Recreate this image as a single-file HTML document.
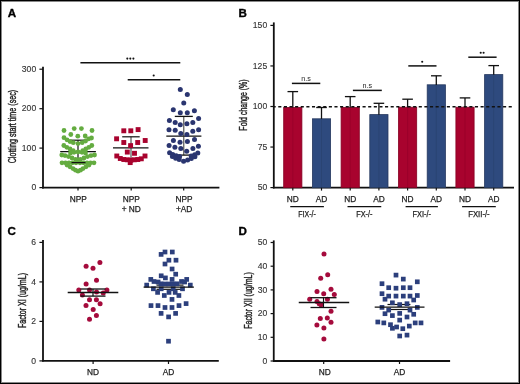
<!DOCTYPE html>
<html><head><meta charset="utf-8"><style>
html,body{margin:0;padding:0;background:#fff;overflow:hidden;}
svg{display:block;font-family:"Liberation Sans", sans-serif;will-change:transform;}
</style></head><body>
<svg width="520" height="384" viewBox="0 0 520 384">
<rect x="0" y="0" width="520" height="384" fill="#fff"/>
<text x="7.70" y="17.05" font-size="11.6" text-anchor="start" font-weight="bold" fill="#000"  stroke="#000" stroke-width="0.35">A</text>
<line x1="43.00" y1="66.80" x2="43.00" y2="188.40" stroke="#111" stroke-width="1.8"/>
<line x1="39.40" y1="69.20" x2="43.00" y2="69.20" stroke="#111" stroke-width="1.2"/>
<text x="36.20" y="71.90" font-size="8.6" text-anchor="end" font-weight="normal" fill="#333" stroke="#333" stroke-width="0.12" >300</text>
<line x1="39.40" y1="108.70" x2="43.00" y2="108.70" stroke="#111" stroke-width="1.2"/>
<text x="36.20" y="111.40" font-size="8.6" text-anchor="end" font-weight="normal" fill="#333" stroke="#333" stroke-width="0.12" >200</text>
<line x1="39.40" y1="148.10" x2="43.00" y2="148.10" stroke="#111" stroke-width="1.2"/>
<text x="36.20" y="150.80" font-size="8.6" text-anchor="end" font-weight="normal" fill="#333" stroke="#333" stroke-width="0.12" >100</text>
<line x1="39.40" y1="187.60" x2="43.00" y2="187.60" stroke="#111" stroke-width="1.2"/>
<text x="36.20" y="190.30" font-size="8.6" text-anchor="end" font-weight="normal" fill="#333" stroke="#333" stroke-width="0.12" >0</text>
<line x1="42.10" y1="187.60" x2="219.40" y2="187.60" stroke="#111" stroke-width="1.8"/>
<line x1="78.00" y1="187.70" x2="78.00" y2="190.60" stroke="#111" stroke-width="1.2"/>
<line x1="131.20" y1="187.70" x2="131.20" y2="190.60" stroke="#111" stroke-width="1.2"/>
<line x1="183.70" y1="187.70" x2="183.70" y2="190.60" stroke="#111" stroke-width="1.2"/>
<text transform="translate(15.90,126.60) rotate(-90)" x="0" y="0" font-size="10" text-anchor="middle" fill="#1e1e1e" stroke="#1e1e1e" stroke-width="0.4" textLength="73.5" lengthAdjust="spacingAndGlyphs">Clotting start time (sec)</text>
<text x="78.30" y="201.70" font-size="8.3" text-anchor="middle" font-weight="normal" fill="#1e1e1e" stroke="#1e1e1e" stroke-width="0.25" >NPP</text>
<text x="131.20" y="201.70" font-size="8.3" text-anchor="middle" font-weight="normal" fill="#1e1e1e" stroke="#1e1e1e" stroke-width="0.25" >NPP</text>
<text x="131.20" y="211.50" font-size="8.3" text-anchor="middle" font-weight="normal" fill="#1e1e1e" stroke="#1e1e1e" stroke-width="0.25" >+ ND</text>
<text x="184.00" y="201.70" font-size="8.3" text-anchor="middle" font-weight="normal" fill="#1e1e1e" stroke="#1e1e1e" stroke-width="0.25" >NPP</text>
<text x="184.10" y="211.50" font-size="8.3" text-anchor="middle" font-weight="normal" fill="#1e1e1e" stroke="#1e1e1e" stroke-width="0.25" >+AD</text>
<line x1="80.40" y1="62.80" x2="180.30" y2="62.80" stroke="#111" stroke-width="1.5"/>
<circle cx="127.30" cy="58.60" r="1.05" fill="#111"/>
<circle cx="130.30" cy="58.60" r="1.05" fill="#111"/>
<circle cx="133.40" cy="58.60" r="1.05" fill="#111"/>
<line x1="127.70" y1="79.80" x2="180.30" y2="79.80" stroke="#111" stroke-width="1.5"/>
<circle cx="153.70" cy="75.50" r="1.05" fill="#111"/>
<line x1="60.20" y1="151.70" x2="95.90" y2="151.70" stroke="#111" stroke-width="1.3"/>
<line x1="78.00" y1="140.20" x2="78.00" y2="162.50" stroke="#111" stroke-width="1.2"/>
<line x1="70.50" y1="140.20" x2="85.50" y2="140.20" stroke="#111" stroke-width="1.2"/>
<circle cx="64.00" cy="130.50" r="2.4" fill="#64ac40"/>
<circle cx="74.20" cy="128.60" r="2.4" fill="#64ac40"/>
<circle cx="81.40" cy="128.60" r="2.4" fill="#64ac40"/>
<circle cx="92.00" cy="130.50" r="2.4" fill="#64ac40"/>
<circle cx="70.80" cy="134.50" r="2.4" fill="#64ac40"/>
<circle cx="77.80" cy="136.20" r="2.4" fill="#64ac40"/>
<circle cx="85.20" cy="136.00" r="2.4" fill="#64ac40"/>
<circle cx="64.00" cy="137.70" r="2.4" fill="#64ac40"/>
<circle cx="67.00" cy="139.80" r="2.4" fill="#64ac40"/>
<circle cx="70.00" cy="141.50" r="2.4" fill="#64ac40"/>
<circle cx="73.30" cy="142.70" r="2.4" fill="#64ac40"/>
<circle cx="78.00" cy="143.60" r="2.4" fill="#64ac40"/>
<circle cx="82.20" cy="142.70" r="2.4" fill="#64ac40"/>
<circle cx="85.60" cy="141.00" r="2.4" fill="#64ac40"/>
<circle cx="88.60" cy="138.90" r="2.4" fill="#64ac40"/>
<circle cx="91.50" cy="138.00" r="2.4" fill="#64ac40"/>
<circle cx="63.80" cy="145.50" r="2.4" fill="#64ac40"/>
<circle cx="66.80" cy="147.30" r="2.4" fill="#64ac40"/>
<circle cx="70.00" cy="149.00" r="2.4" fill="#64ac40"/>
<circle cx="73.20" cy="150.60" r="2.4" fill="#64ac40"/>
<circle cx="91.80" cy="145.50" r="2.4" fill="#64ac40"/>
<circle cx="88.80" cy="147.30" r="2.4" fill="#64ac40"/>
<circle cx="85.80" cy="149.00" r="2.4" fill="#64ac40"/>
<circle cx="82.80" cy="150.60" r="2.4" fill="#64ac40"/>
<circle cx="70.50" cy="153.00" r="2.4" fill="#64ac40"/>
<circle cx="74.00" cy="152.30" r="2.4" fill="#64ac40"/>
<circle cx="78.00" cy="152.00" r="2.4" fill="#64ac40"/>
<circle cx="82.00" cy="152.30" r="2.4" fill="#64ac40"/>
<circle cx="85.50" cy="153.00" r="2.4" fill="#64ac40"/>
<circle cx="61.80" cy="155.00" r="2.4" fill="#64ac40"/>
<circle cx="65.00" cy="155.60" r="2.4" fill="#64ac40"/>
<circle cx="68.50" cy="156.60" r="2.4" fill="#64ac40"/>
<circle cx="72.00" cy="158.00" r="2.4" fill="#64ac40"/>
<circle cx="75.50" cy="159.30" r="2.4" fill="#64ac40"/>
<circle cx="78.00" cy="159.80" r="2.4" fill="#64ac40"/>
<circle cx="80.50" cy="159.30" r="2.4" fill="#64ac40"/>
<circle cx="84.00" cy="158.00" r="2.4" fill="#64ac40"/>
<circle cx="87.50" cy="156.60" r="2.4" fill="#64ac40"/>
<circle cx="91.00" cy="155.60" r="2.4" fill="#64ac40"/>
<circle cx="94.50" cy="155.00" r="2.4" fill="#64ac40"/>
<circle cx="62.00" cy="162.80" r="2.4" fill="#64ac40"/>
<circle cx="65.50" cy="162.80" r="2.4" fill="#64ac40"/>
<circle cx="69.00" cy="162.80" r="2.4" fill="#64ac40"/>
<circle cx="72.50" cy="162.80" r="2.4" fill="#64ac40"/>
<circle cx="76.00" cy="162.80" r="2.4" fill="#64ac40"/>
<circle cx="80.00" cy="162.80" r="2.4" fill="#64ac40"/>
<circle cx="83.50" cy="162.80" r="2.4" fill="#64ac40"/>
<circle cx="87.00" cy="162.80" r="2.4" fill="#64ac40"/>
<circle cx="90.50" cy="162.80" r="2.4" fill="#64ac40"/>
<circle cx="94.00" cy="162.80" r="2.4" fill="#64ac40"/>
<circle cx="67.00" cy="165.00" r="2.4" fill="#64ac40"/>
<circle cx="70.00" cy="166.80" r="2.4" fill="#64ac40"/>
<circle cx="73.00" cy="168.60" r="2.4" fill="#64ac40"/>
<circle cx="75.50" cy="170.20" r="2.4" fill="#64ac40"/>
<circle cx="78.00" cy="171.20" r="2.4" fill="#64ac40"/>
<circle cx="80.50" cy="170.20" r="2.4" fill="#64ac40"/>
<circle cx="83.00" cy="168.60" r="2.4" fill="#64ac40"/>
<circle cx="86.00" cy="166.80" r="2.4" fill="#64ac40"/>
<circle cx="89.00" cy="165.00" r="2.4" fill="#64ac40"/>
<line x1="71.50" y1="162.60" x2="85.50" y2="162.60" stroke="#111" stroke-width="1.2"/>
<line x1="113.00" y1="147.90" x2="148.50" y2="147.90" stroke="#111" stroke-width="1.3"/>
<line x1="131.00" y1="136.80" x2="131.00" y2="159.00" stroke="#333" stroke-width="1.0"/>
<line x1="122.20" y1="136.80" x2="139.70" y2="136.80" stroke="#111" stroke-width="1.2"/>
<line x1="122.20" y1="159.50" x2="139.70" y2="159.50" stroke="#111" stroke-width="1.2"/>
<rect x="121.35" y="128.35" width="4.9" height="4.9" fill="#a8032e"/>
<rect x="128.35" y="128.35" width="4.9" height="4.9" fill="#a8032e"/>
<rect x="135.65" y="127.15" width="4.9" height="4.9" fill="#a8032e"/>
<rect x="114.15" y="136.35" width="4.9" height="4.9" fill="#a8032e"/>
<rect x="142.75" y="138.05" width="4.9" height="4.9" fill="#a8032e"/>
<rect x="121.35" y="140.05" width="4.9" height="4.9" fill="#a8032e"/>
<rect x="135.25" y="140.05" width="4.9" height="4.9" fill="#a8032e"/>
<rect x="128.15" y="143.15" width="4.9" height="4.9" fill="#a8032e"/>
<rect x="124.85" y="149.65" width="4.9" height="4.9" fill="#a8032e"/>
<rect x="132.05" y="150.85" width="4.9" height="4.9" fill="#a8032e"/>
<rect x="114.35" y="153.55" width="4.9" height="4.9" fill="#a8032e"/>
<rect x="142.55" y="153.55" width="4.9" height="4.9" fill="#a8032e"/>
<rect x="117.85" y="156.05" width="4.9" height="4.9" fill="#a8032e"/>
<rect x="121.35" y="157.05" width="4.9" height="4.9" fill="#a8032e"/>
<rect x="124.85" y="157.35" width="4.9" height="4.9" fill="#a8032e"/>
<rect x="128.35" y="157.75" width="4.9" height="4.9" fill="#a8032e"/>
<rect x="131.85" y="157.35" width="4.9" height="4.9" fill="#a8032e"/>
<rect x="135.35" y="157.05" width="4.9" height="4.9" fill="#a8032e"/>
<rect x="138.85" y="156.35" width="4.9" height="4.9" fill="#a8032e"/>
<rect x="127.75" y="160.15" width="4.9" height="4.9" fill="#a8032e"/>
<line x1="166.30" y1="136.10" x2="201.40" y2="136.10" stroke="#111" stroke-width="1.4"/>
<line x1="183.80" y1="116.40" x2="183.80" y2="155.10" stroke="#333" stroke-width="1.0"/>
<line x1="174.80" y1="155.10" x2="192.80" y2="155.10" stroke="#111" stroke-width="1.3"/>
<circle cx="180.30" cy="89.40" r="2.5" fill="#2a3570"/>
<circle cx="187.30" cy="94.40" r="2.5" fill="#2a3570"/>
<circle cx="183.75" cy="103.10" r="2.5" fill="#2a3570"/>
<circle cx="173.30" cy="109.70" r="2.5" fill="#2a3570"/>
<circle cx="180.30" cy="112.80" r="2.5" fill="#2a3570"/>
<circle cx="187.30" cy="112.80" r="2.5" fill="#2a3570"/>
<circle cx="194.40" cy="110.80" r="2.5" fill="#2a3570"/>
<circle cx="169.40" cy="120.60" r="2.5" fill="#2a3570"/>
<circle cx="175.20" cy="122.50" r="2.5" fill="#2a3570"/>
<circle cx="180.30" cy="124.80" r="2.5" fill="#2a3570"/>
<circle cx="186.90" cy="123.75" r="2.5" fill="#2a3570"/>
<circle cx="192.80" cy="122.50" r="2.5" fill="#2a3570"/>
<circle cx="198.60" cy="118.60" r="2.5" fill="#2a3570"/>
<circle cx="169.00" cy="129.70" r="2.5" fill="#2a3570"/>
<circle cx="175.20" cy="130.30" r="2.5" fill="#2a3570"/>
<circle cx="180.80" cy="133.40" r="2.5" fill="#2a3570"/>
<circle cx="186.90" cy="134.40" r="2.5" fill="#2a3570"/>
<circle cx="192.80" cy="131.25" r="2.5" fill="#2a3570"/>
<circle cx="198.60" cy="129.70" r="2.5" fill="#2a3570"/>
<circle cx="173.40" cy="140.50" r="2.5" fill="#2a3570"/>
<circle cx="180.00" cy="142.25" r="2.5" fill="#2a3570"/>
<circle cx="187.40" cy="141.50" r="2.5" fill="#2a3570"/>
<circle cx="194.50" cy="139.50" r="2.5" fill="#2a3570"/>
<circle cx="169.10" cy="145.40" r="2.5" fill="#2a3570"/>
<circle cx="174.90" cy="147.30" r="2.5" fill="#2a3570"/>
<circle cx="180.80" cy="148.50" r="2.5" fill="#2a3570"/>
<circle cx="186.70" cy="151.20" r="2.5" fill="#2a3570"/>
<circle cx="192.90" cy="148.50" r="2.5" fill="#2a3570"/>
<circle cx="198.40" cy="146.20" r="2.5" fill="#2a3570"/>
<circle cx="169.60" cy="152.80" r="2.5" fill="#2a3570"/>
<circle cx="172.80" cy="154.60" r="2.5" fill="#2a3570"/>
<circle cx="176.20" cy="155.80" r="2.5" fill="#2a3570"/>
<circle cx="179.60" cy="156.60" r="2.5" fill="#2a3570"/>
<circle cx="197.80" cy="153.00" r="2.5" fill="#2a3570"/>
<circle cx="194.60" cy="154.80" r="2.5" fill="#2a3570"/>
<circle cx="191.20" cy="156.00" r="2.5" fill="#2a3570"/>
<circle cx="172.40" cy="156.40" r="2.5" fill="#2a3570"/>
<circle cx="175.70" cy="158.30" r="2.5" fill="#2a3570"/>
<circle cx="179.20" cy="159.50" r="2.5" fill="#2a3570"/>
<circle cx="183.60" cy="161.30" r="2.5" fill="#2a3570"/>
<circle cx="187.60" cy="159.90" r="2.5" fill="#2a3570"/>
<circle cx="191.30" cy="158.60" r="2.5" fill="#2a3570"/>
<circle cx="194.90" cy="156.80" r="2.5" fill="#2a3570"/>
<line x1="174.80" y1="116.40" x2="192.80" y2="116.40" stroke="#111" stroke-width="1.3"/>
<text x="238.60" y="17.15" font-size="11.6" text-anchor="start" font-weight="bold" fill="#000"  stroke="#000" stroke-width="0.35">B</text>
<line x1="273.80" y1="22.40" x2="273.80" y2="188.40" stroke="#111" stroke-width="1.8"/>
<line x1="270.40" y1="25.40" x2="273.80" y2="25.40" stroke="#111" stroke-width="1.2"/>
<text x="267.20" y="28.10" font-size="8.6" text-anchor="end" font-weight="normal" fill="#333" stroke="#333" stroke-width="0.12" >150</text>
<line x1="270.40" y1="65.95" x2="273.80" y2="65.95" stroke="#111" stroke-width="1.2"/>
<text x="267.20" y="68.65" font-size="8.6" text-anchor="end" font-weight="normal" fill="#333" stroke="#333" stroke-width="0.12" >125</text>
<line x1="270.40" y1="106.50" x2="273.80" y2="106.50" stroke="#111" stroke-width="1.2"/>
<text x="267.20" y="109.20" font-size="8.6" text-anchor="end" font-weight="normal" fill="#333" stroke="#333" stroke-width="0.12" >100</text>
<line x1="270.40" y1="147.05" x2="273.80" y2="147.05" stroke="#111" stroke-width="1.2"/>
<text x="267.20" y="149.75" font-size="8.6" text-anchor="end" font-weight="normal" fill="#333" stroke="#333" stroke-width="0.12" >75</text>
<line x1="270.40" y1="187.60" x2="273.80" y2="187.60" stroke="#111" stroke-width="1.2"/>
<text x="267.20" y="190.30" font-size="8.6" text-anchor="end" font-weight="normal" fill="#333" stroke="#333" stroke-width="0.12" >50</text>
<line x1="272.90" y1="187.60" x2="514.00" y2="187.60" stroke="#111" stroke-width="1.8"/>
<text transform="translate(247.30,105.00) rotate(-90)" x="0" y="0" font-size="10.2" text-anchor="middle" fill="#1e1e1e" stroke="#1e1e1e" stroke-width="0.4" textLength="51.3" lengthAdjust="spacingAndGlyphs">Fold change (%)</text>
<rect x="283.70" y="107.40" width="18.2" height="80.30" fill="#a8032e" stroke="#850022" stroke-width="0.8"/>
<line x1="292.80" y1="107.00" x2="292.80" y2="187.70" stroke="#98002a" stroke-width="0.8"/>
<line x1="292.80" y1="91.60" x2="292.80" y2="107.50" stroke="#111" stroke-width="1.3"/>
<line x1="287.50" y1="91.60" x2="298.10" y2="91.60" stroke="#111" stroke-width="1.3"/>
<line x1="292.80" y1="187.70" x2="292.80" y2="190.60" stroke="#111" stroke-width="1.2"/>
<text x="292.80" y="201.70" font-size="8.3" text-anchor="middle" font-weight="normal" fill="#1e1e1e" stroke="#1e1e1e" stroke-width="0.25" >ND</text>
<rect x="312.40" y="118.80" width="18.2" height="68.90" fill="#2e4a7e" stroke="#26395f" stroke-width="0.8"/>
<line x1="321.50" y1="118.40" x2="321.50" y2="187.70" stroke="#2a4270" stroke-width="0.8"/>
<line x1="321.50" y1="107.50" x2="321.50" y2="118.90" stroke="#111" stroke-width="1.3"/>
<line x1="316.20" y1="107.50" x2="326.80" y2="107.50" stroke="#111" stroke-width="1.3"/>
<line x1="321.50" y1="187.70" x2="321.50" y2="190.60" stroke="#111" stroke-width="1.2"/>
<text x="321.50" y="201.70" font-size="8.3" text-anchor="middle" font-weight="normal" fill="#1e1e1e" stroke="#1e1e1e" stroke-width="0.25" >AD</text>
<rect x="341.10" y="107.40" width="18.2" height="80.30" fill="#a8032e" stroke="#850022" stroke-width="0.8"/>
<line x1="350.20" y1="107.00" x2="350.20" y2="187.70" stroke="#98002a" stroke-width="0.8"/>
<line x1="350.20" y1="96.60" x2="350.20" y2="107.50" stroke="#111" stroke-width="1.3"/>
<line x1="344.90" y1="96.60" x2="355.50" y2="96.60" stroke="#111" stroke-width="1.3"/>
<line x1="350.20" y1="187.70" x2="350.20" y2="190.60" stroke="#111" stroke-width="1.2"/>
<text x="350.20" y="201.70" font-size="8.3" text-anchor="middle" font-weight="normal" fill="#1e1e1e" stroke="#1e1e1e" stroke-width="0.25" >ND</text>
<rect x="369.80" y="114.60" width="18.2" height="73.10" fill="#2e4a7e" stroke="#26395f" stroke-width="0.8"/>
<line x1="378.90" y1="114.20" x2="378.90" y2="187.70" stroke="#2a4270" stroke-width="0.8"/>
<line x1="378.90" y1="103.30" x2="378.90" y2="114.70" stroke="#111" stroke-width="1.3"/>
<line x1="373.60" y1="103.30" x2="384.20" y2="103.30" stroke="#111" stroke-width="1.3"/>
<line x1="378.90" y1="187.70" x2="378.90" y2="190.60" stroke="#111" stroke-width="1.2"/>
<text x="378.90" y="201.70" font-size="8.3" text-anchor="middle" font-weight="normal" fill="#1e1e1e" stroke="#1e1e1e" stroke-width="0.25" >AD</text>
<rect x="398.50" y="107.20" width="18.2" height="80.50" fill="#a8032e" stroke="#850022" stroke-width="0.8"/>
<line x1="407.60" y1="106.80" x2="407.60" y2="187.70" stroke="#98002a" stroke-width="0.8"/>
<line x1="407.60" y1="99.20" x2="407.60" y2="107.30" stroke="#111" stroke-width="1.3"/>
<line x1="402.30" y1="99.20" x2="412.90" y2="99.20" stroke="#111" stroke-width="1.3"/>
<line x1="407.60" y1="187.70" x2="407.60" y2="190.60" stroke="#111" stroke-width="1.2"/>
<text x="407.60" y="201.70" font-size="8.3" text-anchor="middle" font-weight="normal" fill="#1e1e1e" stroke="#1e1e1e" stroke-width="0.25" >ND</text>
<rect x="427.20" y="84.80" width="18.2" height="102.90" fill="#2e4a7e" stroke="#26395f" stroke-width="0.8"/>
<line x1="436.30" y1="84.40" x2="436.30" y2="187.70" stroke="#2a4270" stroke-width="0.8"/>
<line x1="436.30" y1="75.80" x2="436.30" y2="84.90" stroke="#111" stroke-width="1.3"/>
<line x1="431.00" y1="75.80" x2="441.60" y2="75.80" stroke="#111" stroke-width="1.3"/>
<line x1="436.30" y1="187.70" x2="436.30" y2="190.60" stroke="#111" stroke-width="1.2"/>
<text x="436.30" y="201.70" font-size="8.3" text-anchor="middle" font-weight="normal" fill="#1e1e1e" stroke="#1e1e1e" stroke-width="0.25" >AD</text>
<rect x="455.90" y="107.20" width="18.2" height="80.50" fill="#a8032e" stroke="#850022" stroke-width="0.8"/>
<line x1="465.00" y1="106.80" x2="465.00" y2="187.70" stroke="#98002a" stroke-width="0.8"/>
<line x1="465.00" y1="97.90" x2="465.00" y2="107.30" stroke="#111" stroke-width="1.3"/>
<line x1="459.70" y1="97.90" x2="470.30" y2="97.90" stroke="#111" stroke-width="1.3"/>
<line x1="465.00" y1="187.70" x2="465.00" y2="190.60" stroke="#111" stroke-width="1.2"/>
<text x="465.00" y="201.70" font-size="8.3" text-anchor="middle" font-weight="normal" fill="#1e1e1e" stroke="#1e1e1e" stroke-width="0.25" >ND</text>
<rect x="484.60" y="74.60" width="18.2" height="113.10" fill="#2e4a7e" stroke="#26395f" stroke-width="0.8"/>
<line x1="493.70" y1="74.20" x2="493.70" y2="187.70" stroke="#2a4270" stroke-width="0.8"/>
<line x1="493.70" y1="65.60" x2="493.70" y2="74.70" stroke="#111" stroke-width="1.3"/>
<line x1="488.40" y1="65.60" x2="499.00" y2="65.60" stroke="#111" stroke-width="1.3"/>
<line x1="493.70" y1="187.70" x2="493.70" y2="190.60" stroke="#111" stroke-width="1.2"/>
<text x="493.70" y="201.70" font-size="8.3" text-anchor="middle" font-weight="normal" fill="#1e1e1e" stroke="#1e1e1e" stroke-width="0.25" >AD</text>
<line x1="273.8" y1="106.8" x2="512.0" y2="106.8" stroke="#111" stroke-width="1.5" stroke-dasharray="3.1,2.52" stroke-dashoffset="1.17"/>
<line x1="290.25" y1="206.60" x2="323.90" y2="206.60" stroke="#111" stroke-width="1.1"/>
<line x1="347.50" y1="206.60" x2="381.25" y2="206.60" stroke="#111" stroke-width="1.1"/>
<line x1="405.60" y1="206.60" x2="437.90" y2="206.60" stroke="#111" stroke-width="1.1"/>
<line x1="462.10" y1="206.60" x2="495.80" y2="206.60" stroke="#111" stroke-width="1.1"/>
<text x="307.07" y="216.9" font-size="8.3" text-anchor="middle" fill="#1e1e1e" stroke="#1e1e1e" stroke-width="0.25" textLength="17.5" lengthAdjust="spacingAndGlyphs">FIX-/-</text>
<text x="364.38" y="216.9" font-size="8.3" text-anchor="middle" fill="#1e1e1e" stroke="#1e1e1e" stroke-width="0.25" textLength="16.2" lengthAdjust="spacingAndGlyphs">FX-/-</text>
<text x="421.75" y="216.9" font-size="8.3" text-anchor="middle" fill="#1e1e1e" stroke="#1e1e1e" stroke-width="0.25" textLength="18.4" lengthAdjust="spacingAndGlyphs">FXI-/-</text>
<text x="478.95" y="216.9" font-size="8.3" text-anchor="middle" fill="#1e1e1e" stroke="#1e1e1e" stroke-width="0.25" textLength="21.5" lengthAdjust="spacingAndGlyphs">FXII-/-</text>
<line x1="291.90" y1="83.40" x2="320.30" y2="83.40" stroke="#111" stroke-width="1.5"/>
<text x="306.10" y="81.30" font-size="7.2" text-anchor="middle" font-weight="normal" fill="#1e1e1e"  >n.s</text>
<line x1="352.90" y1="90.40" x2="381.80" y2="90.40" stroke="#111" stroke-width="1.5"/>
<text x="367.40" y="88.00" font-size="7.2" text-anchor="middle" font-weight="normal" fill="#1e1e1e"  >n.s</text>
<line x1="408.30" y1="65.90" x2="436.50" y2="65.90" stroke="#111" stroke-width="1.5"/>
<circle cx="422.20" cy="61.70" r="1.05" fill="#111"/>
<line x1="468.30" y1="57.20" x2="496.60" y2="57.20" stroke="#111" stroke-width="1.5"/>
<circle cx="480.70" cy="52.80" r="1.05" fill="#111"/>
<circle cx="483.60" cy="52.80" r="1.05" fill="#111"/>
<text x="7.50" y="234.70" font-size="11.6" text-anchor="start" font-weight="bold" fill="#000"  stroke="#000" stroke-width="0.35">C</text>
<line x1="43.00" y1="239.90" x2="43.00" y2="361.50" stroke="#111" stroke-width="1.8"/>
<line x1="39.40" y1="242.40" x2="43.10" y2="242.40" stroke="#111" stroke-width="1.2"/>
<text x="36.00" y="245.10" font-size="8.6" text-anchor="end" font-weight="normal" fill="#333" stroke="#333" stroke-width="0.12" >6</text>
<line x1="39.40" y1="281.90" x2="43.10" y2="281.90" stroke="#111" stroke-width="1.2"/>
<text x="36.00" y="284.60" font-size="8.6" text-anchor="end" font-weight="normal" fill="#333" stroke="#333" stroke-width="0.12" >4</text>
<line x1="39.40" y1="321.40" x2="43.10" y2="321.40" stroke="#111" stroke-width="1.2"/>
<text x="36.00" y="324.10" font-size="8.6" text-anchor="end" font-weight="normal" fill="#333" stroke="#333" stroke-width="0.12" >2</text>
<line x1="39.40" y1="360.90" x2="43.10" y2="360.90" stroke="#111" stroke-width="1.2"/>
<text x="36.00" y="363.60" font-size="8.6" text-anchor="end" font-weight="normal" fill="#333" stroke="#333" stroke-width="0.12" >0</text>
<line x1="42.20" y1="360.90" x2="218.80" y2="360.90" stroke="#111" stroke-width="1.8"/>
<line x1="93.10" y1="360.90" x2="93.10" y2="364.00" stroke="#111" stroke-width="1.2"/>
<line x1="168.50" y1="360.90" x2="168.50" y2="364.00" stroke="#111" stroke-width="1.2"/>
<text x="93.10" y="374.80" font-size="8.3" text-anchor="middle" font-weight="normal" fill="#1e1e1e" stroke="#1e1e1e" stroke-width="0.25" >ND</text>
<text x="168.40" y="374.80" font-size="8.3" text-anchor="middle" font-weight="normal" fill="#1e1e1e" stroke="#1e1e1e" stroke-width="0.25" >AD</text>
<text transform="translate(26.10,300.50) rotate(-90)" x="0" y="0" font-size="10" text-anchor="middle" fill="#1e1e1e" stroke="#1e1e1e" stroke-width="0.4" textLength="55" lengthAdjust="spacingAndGlyphs">Factor XI (ug/mL)</text>
<circle cx="99.90" cy="262.50" r="2.5" fill="#a50b3c"/>
<circle cx="86.10" cy="266.20" r="2.5" fill="#a50b3c"/>
<circle cx="93.00" cy="268.30" r="2.5" fill="#a50b3c"/>
<circle cx="96.50" cy="280.20" r="2.5" fill="#a50b3c"/>
<circle cx="86.10" cy="283.90" r="2.5" fill="#a50b3c"/>
<circle cx="78.80" cy="289.90" r="2.5" fill="#a50b3c"/>
<circle cx="89.50" cy="289.90" r="2.5" fill="#a50b3c"/>
<circle cx="96.50" cy="291.90" r="2.5" fill="#a50b3c"/>
<circle cx="106.90" cy="289.90" r="2.5" fill="#a50b3c"/>
<circle cx="103.25" cy="293.00" r="2.5" fill="#a50b3c"/>
<circle cx="82.40" cy="295.00" r="2.5" fill="#a50b3c"/>
<circle cx="89.50" cy="299.80" r="2.5" fill="#a50b3c"/>
<circle cx="96.40" cy="299.80" r="2.5" fill="#a50b3c"/>
<circle cx="100.10" cy="303.80" r="2.5" fill="#a50b3c"/>
<circle cx="86.00" cy="305.60" r="2.5" fill="#a50b3c"/>
<circle cx="93.20" cy="309.60" r="2.5" fill="#a50b3c"/>
<circle cx="96.40" cy="315.60" r="2.5" fill="#a50b3c"/>
<circle cx="89.50" cy="319.30" r="2.5" fill="#a50b3c"/>
<line x1="67.70" y1="292.50" x2="118.30" y2="292.50" stroke="#111" stroke-width="1.3"/>
<line x1="80.50" y1="289.00" x2="105.50" y2="289.00" stroke="#111" stroke-width="1.3"/>
<line x1="80.50" y1="296.10" x2="105.50" y2="296.10" stroke="#111" stroke-width="1.3"/>
<line x1="93.00" y1="289.00" x2="93.00" y2="296.10" stroke="#111" stroke-width="1.2"/>
<line x1="156.50" y1="285.10" x2="183.50" y2="285.10" stroke="#111" stroke-width="1.2"/>
<line x1="156.50" y1="289.30" x2="183.50" y2="289.30" stroke="#111" stroke-width="1.2"/>
<rect x="158.75" y="252.05" width="4.7" height="4.7" fill="#2c3f7c"/>
<rect x="162.65" y="249.65" width="4.7" height="4.7" fill="#2c3f7c"/>
<rect x="169.95" y="249.65" width="4.7" height="4.7" fill="#2c3f7c"/>
<rect x="166.55" y="257.85" width="4.7" height="4.7" fill="#2c3f7c"/>
<rect x="173.65" y="257.85" width="4.7" height="4.7" fill="#2c3f7c"/>
<rect x="162.65" y="261.65" width="4.7" height="4.7" fill="#2c3f7c"/>
<rect x="169.75" y="266.65" width="4.7" height="4.7" fill="#2c3f7c"/>
<rect x="173.35" y="271.85" width="4.7" height="4.7" fill="#2c3f7c"/>
<rect x="158.85" y="273.45" width="4.7" height="4.7" fill="#2c3f7c"/>
<rect x="163.05" y="275.55" width="4.7" height="4.7" fill="#2c3f7c"/>
<rect x="148.45" y="277.05" width="4.7" height="4.7" fill="#2c3f7c"/>
<rect x="169.75" y="277.05" width="4.7" height="4.7" fill="#2c3f7c"/>
<rect x="184.35" y="277.05" width="4.7" height="4.7" fill="#2c3f7c"/>
<rect x="151.65" y="279.15" width="4.7" height="4.7" fill="#2c3f7c"/>
<rect x="155.75" y="279.65" width="4.7" height="4.7" fill="#2c3f7c"/>
<rect x="179.15" y="279.15" width="4.7" height="4.7" fill="#2c3f7c"/>
<rect x="182.25" y="279.65" width="4.7" height="4.7" fill="#2c3f7c"/>
<rect x="158.65" y="281.45" width="4.7" height="4.7" fill="#2c3f7c"/>
<rect x="162.65" y="281.65" width="4.7" height="4.7" fill="#2c3f7c"/>
<rect x="166.65" y="281.65" width="4.7" height="4.7" fill="#2c3f7c"/>
<rect x="170.65" y="281.65" width="4.7" height="4.7" fill="#2c3f7c"/>
<rect x="174.65" y="281.45" width="4.7" height="4.7" fill="#2c3f7c"/>
<rect x="144.35" y="282.75" width="4.7" height="4.7" fill="#2c3f7c"/>
<rect x="187.95" y="282.75" width="4.7" height="4.7" fill="#2c3f7c"/>
<rect x="151.05" y="286.45" width="4.7" height="4.7" fill="#2c3f7c"/>
<rect x="158.85" y="286.45" width="4.7" height="4.7" fill="#2c3f7c"/>
<rect x="170.85" y="286.45" width="4.7" height="4.7" fill="#2c3f7c"/>
<rect x="180.15" y="286.45" width="4.7" height="4.7" fill="#2c3f7c"/>
<rect x="155.25" y="290.05" width="4.7" height="4.7" fill="#2c3f7c"/>
<rect x="166.65" y="290.05" width="4.7" height="4.7" fill="#2c3f7c"/>
<rect x="172.85" y="290.05" width="4.7" height="4.7" fill="#2c3f7c"/>
<rect x="161.95" y="293.15" width="4.7" height="4.7" fill="#2c3f7c"/>
<rect x="176.55" y="293.15" width="4.7" height="4.7" fill="#2c3f7c"/>
<rect x="169.65" y="297.05" width="4.7" height="4.7" fill="#2c3f7c"/>
<rect x="148.65" y="303.25" width="4.7" height="4.7" fill="#2c3f7c"/>
<rect x="155.65" y="303.25" width="4.7" height="4.7" fill="#2c3f7c"/>
<rect x="162.65" y="305.15" width="4.7" height="4.7" fill="#2c3f7c"/>
<rect x="169.65" y="305.15" width="4.7" height="4.7" fill="#2c3f7c"/>
<rect x="176.65" y="303.25" width="4.7" height="4.7" fill="#2c3f7c"/>
<rect x="183.75" y="301.25" width="4.7" height="4.7" fill="#2c3f7c"/>
<rect x="158.75" y="311.05" width="4.7" height="4.7" fill="#2c3f7c"/>
<rect x="173.25" y="311.05" width="4.7" height="4.7" fill="#2c3f7c"/>
<rect x="166.25" y="314.55" width="4.7" height="4.7" fill="#2c3f7c"/>
<rect x="166.15" y="338.85" width="4.7" height="4.7" fill="#2c3f7c"/>
<line x1="143.60" y1="287.20" x2="193.90" y2="287.20" stroke="#111" stroke-width="1.3"/>
<text x="238.60" y="234.60" font-size="11.6" text-anchor="start" font-weight="bold" fill="#000"  stroke="#000" stroke-width="0.35">D</text>
<line x1="273.75" y1="240.40" x2="273.75" y2="361.70" stroke="#111" stroke-width="1.8"/>
<line x1="270.60" y1="242.50" x2="273.75" y2="242.50" stroke="#111" stroke-width="1.2"/>
<text x="267.20" y="245.20" font-size="8.6" text-anchor="end" font-weight="normal" fill="#333" stroke="#333" stroke-width="0.12" >50</text>
<line x1="270.60" y1="266.20" x2="273.75" y2="266.20" stroke="#111" stroke-width="1.2"/>
<text x="267.20" y="268.90" font-size="8.6" text-anchor="end" font-weight="normal" fill="#333" stroke="#333" stroke-width="0.12" >40</text>
<line x1="270.60" y1="289.90" x2="273.75" y2="289.90" stroke="#111" stroke-width="1.2"/>
<text x="267.20" y="292.60" font-size="8.6" text-anchor="end" font-weight="normal" fill="#333" stroke="#333" stroke-width="0.12" >30</text>
<line x1="270.60" y1="313.60" x2="273.75" y2="313.60" stroke="#111" stroke-width="1.2"/>
<text x="267.20" y="316.30" font-size="8.6" text-anchor="end" font-weight="normal" fill="#333" stroke="#333" stroke-width="0.12" >20</text>
<line x1="270.60" y1="337.30" x2="273.75" y2="337.30" stroke="#111" stroke-width="1.2"/>
<text x="267.20" y="340.00" font-size="8.6" text-anchor="end" font-weight="normal" fill="#333" stroke="#333" stroke-width="0.12" >10</text>
<line x1="270.60" y1="361.00" x2="273.75" y2="361.00" stroke="#111" stroke-width="1.2"/>
<text x="267.20" y="363.70" font-size="8.6" text-anchor="end" font-weight="normal" fill="#333" stroke="#333" stroke-width="0.12" >0</text>
<line x1="273.00" y1="361.00" x2="450.10" y2="361.00" stroke="#111" stroke-width="1.8"/>
<line x1="323.70" y1="361.00" x2="323.70" y2="364.00" stroke="#111" stroke-width="1.2"/>
<line x1="399.50" y1="361.00" x2="399.50" y2="364.00" stroke="#111" stroke-width="1.2"/>
<text x="324.80" y="374.80" font-size="8.3" text-anchor="middle" font-weight="normal" fill="#1e1e1e" stroke="#1e1e1e" stroke-width="0.25" >ND</text>
<text x="399.50" y="374.80" font-size="8.3" text-anchor="middle" font-weight="normal" fill="#1e1e1e" stroke="#1e1e1e" stroke-width="0.25" >AD</text>
<text transform="translate(252.20,300.50) rotate(-90)" x="0" y="0" font-size="10" text-anchor="middle" fill="#1e1e1e" stroke="#1e1e1e" stroke-width="0.4" textLength="56.6" lengthAdjust="spacingAndGlyphs">Factor XII (ug/mL)</text>
<circle cx="324.00" cy="254.00" r="2.5" fill="#a50b3c"/>
<circle cx="327.70" cy="274.70" r="2.5" fill="#a50b3c"/>
<circle cx="320.70" cy="278.20" r="2.5" fill="#a50b3c"/>
<circle cx="317.00" cy="291.50" r="2.5" fill="#a50b3c"/>
<circle cx="331.00" cy="289.20" r="2.5" fill="#a50b3c"/>
<circle cx="323.70" cy="293.70" r="2.5" fill="#a50b3c"/>
<circle cx="334.30" cy="294.60" r="2.5" fill="#a50b3c"/>
<circle cx="309.70" cy="299.20" r="2.5" fill="#a50b3c"/>
<circle cx="327.40" cy="299.20" r="2.5" fill="#a50b3c"/>
<circle cx="317.00" cy="301.60" r="2.5" fill="#a50b3c"/>
<circle cx="319.20" cy="303.70" r="2.5" fill="#a50b3c"/>
<circle cx="321.00" cy="304.70" r="2.5" fill="#a50b3c"/>
<circle cx="331.00" cy="311.25" r="2.5" fill="#a50b3c"/>
<circle cx="320.30" cy="318.40" r="2.5" fill="#a50b3c"/>
<circle cx="327.30" cy="318.00" r="2.5" fill="#a50b3c"/>
<circle cx="331.00" cy="322.20" r="2.5" fill="#a50b3c"/>
<circle cx="316.90" cy="325.00" r="2.5" fill="#a50b3c"/>
<circle cx="323.90" cy="328.10" r="2.5" fill="#a50b3c"/>
<circle cx="323.90" cy="339.10" r="2.5" fill="#a50b3c"/>
<line x1="298.75" y1="302.50" x2="349.20" y2="302.50" stroke="#111" stroke-width="1.3"/>
<line x1="310.50" y1="297.70" x2="336.50" y2="297.70" stroke="#111" stroke-width="1.3"/>
<line x1="310.50" y1="307.50" x2="336.50" y2="307.50" stroke="#111" stroke-width="1.3"/>
<line x1="323.50" y1="297.70" x2="323.50" y2="307.50" stroke="#111" stroke-width="1.1"/>
<line x1="387.50" y1="304.50" x2="410.40" y2="304.50" stroke="#111" stroke-width="1.2"/>
<line x1="387.50" y1="309.50" x2="410.40" y2="309.50" stroke="#111" stroke-width="1.2"/>
<rect x="393.65" y="272.75" width="4.7" height="4.7" fill="#2c3f7c"/>
<rect x="400.95" y="276.75" width="4.7" height="4.7" fill="#2c3f7c"/>
<rect x="379.65" y="281.35" width="4.7" height="4.7" fill="#2c3f7c"/>
<rect x="414.95" y="279.45" width="4.7" height="4.7" fill="#2c3f7c"/>
<rect x="386.35" y="285.35" width="4.7" height="4.7" fill="#2c3f7c"/>
<rect x="393.65" y="285.85" width="4.7" height="4.7" fill="#2c3f7c"/>
<rect x="400.95" y="285.35" width="4.7" height="4.7" fill="#2c3f7c"/>
<rect x="407.65" y="285.35" width="4.7" height="4.7" fill="#2c3f7c"/>
<rect x="379.65" y="291.35" width="4.7" height="4.7" fill="#2c3f7c"/>
<rect x="386.35" y="293.75" width="4.7" height="4.7" fill="#2c3f7c"/>
<rect x="393.65" y="293.75" width="4.7" height="4.7" fill="#2c3f7c"/>
<rect x="400.95" y="293.75" width="4.7" height="4.7" fill="#2c3f7c"/>
<rect x="407.65" y="293.75" width="4.7" height="4.7" fill="#2c3f7c"/>
<rect x="414.95" y="293.15" width="4.7" height="4.7" fill="#2c3f7c"/>
<rect x="382.65" y="296.85" width="4.7" height="4.7" fill="#2c3f7c"/>
<rect x="411.35" y="297.65" width="4.7" height="4.7" fill="#2c3f7c"/>
<rect x="390.05" y="300.45" width="4.7" height="4.7" fill="#2c3f7c"/>
<rect x="397.35" y="302.25" width="4.7" height="4.7" fill="#2c3f7c"/>
<rect x="404.65" y="301.35" width="4.7" height="4.7" fill="#2c3f7c"/>
<rect x="379.65" y="305.05" width="4.7" height="4.7" fill="#2c3f7c"/>
<rect x="414.95" y="305.05" width="4.7" height="4.7" fill="#2c3f7c"/>
<rect x="386.35" y="307.75" width="4.7" height="4.7" fill="#2c3f7c"/>
<rect x="407.65" y="307.75" width="4.7" height="4.7" fill="#2c3f7c"/>
<rect x="382.65" y="311.35" width="4.7" height="4.7" fill="#2c3f7c"/>
<rect x="390.05" y="313.25" width="4.7" height="4.7" fill="#2c3f7c"/>
<rect x="397.35" y="311.05" width="4.7" height="4.7" fill="#2c3f7c"/>
<rect x="411.35" y="311.95" width="4.7" height="4.7" fill="#2c3f7c"/>
<rect x="404.65" y="314.65" width="4.7" height="4.7" fill="#2c3f7c"/>
<rect x="397.35" y="317.75" width="4.7" height="4.7" fill="#2c3f7c"/>
<rect x="375.45" y="319.65" width="4.7" height="4.7" fill="#2c3f7c"/>
<rect x="381.45" y="320.55" width="4.7" height="4.7" fill="#2c3f7c"/>
<rect x="388.15" y="322.35" width="4.7" height="4.7" fill="#2c3f7c"/>
<rect x="390.05" y="325.95" width="4.7" height="4.7" fill="#2c3f7c"/>
<rect x="394.25" y="324.65" width="4.7" height="4.7" fill="#2c3f7c"/>
<rect x="400.45" y="326.35" width="4.7" height="4.7" fill="#2c3f7c"/>
<rect x="406.95" y="323.75" width="4.7" height="4.7" fill="#2c3f7c"/>
<rect x="412.85" y="320.55" width="4.7" height="4.7" fill="#2c3f7c"/>
<rect x="418.65" y="320.55" width="4.7" height="4.7" fill="#2c3f7c"/>
<rect x="397.35" y="333.65" width="4.7" height="4.7" fill="#2c3f7c"/>
<rect x="404.65" y="332.75" width="4.7" height="4.7" fill="#2c3f7c"/>
<line x1="374.70" y1="307.20" x2="424.50" y2="307.20" stroke="#111" stroke-width="1.3"/>
<rect x="1.5" y="1.5" width="517" height="381" fill="none" stroke="#888" stroke-width="1"/>
<rect x="0.5" y="0.5" width="519" height="383" fill="none" stroke="#000" stroke-width="1"/>
</svg>
</body></html>
